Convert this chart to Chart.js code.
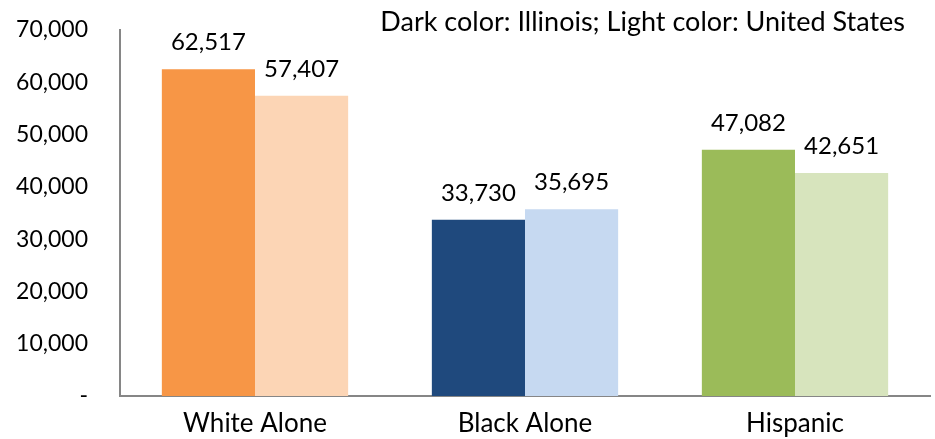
<!DOCTYPE html>
<html>
<head>
<meta charset="utf-8">
<script src="https://cdn.jsdelivr.net/npm/chart.js@4"></script>
<style>
  html, body { margin: 0; padding: 0; background: #fff; }
  #wrap { width: 935px; height: 439px; }
</style>
</head>
<body>
<div id="wrap"><canvas id="chart" width="935" height="439"></canvas></div>
<script>
// data
const categories = ["White Alone", "Black Alone", "Hispanic"];
const illinois = [62517, 33730, 47082];
const unitedStates = [57407, 35695, 42651];
const darkColors = ["#F79646", "#1F497D", "#9BBB59"];
const lightColors = ["#FCD5B5", "#C6D9F1", "#D7E4BD"];
const note = "Dark color: Illinois; Light color: United States";

const FONT = "Lato, 'Open Sans', sans-serif";

// value labels above bars + the note at top right
const labelPlugin = {
  id: "labels",
  afterDatasetsDraw(chart) {
    const ctx = chart.ctx;
    ctx.save();
    ctx.fillStyle = "#000";
    ctx.font = "24px " + FONT;
    ctx.textAlign = "center";
    ctx.textBaseline = "alphabetic";
    chart.data.datasets.forEach((ds, i) => {
      chart.getDatasetMeta(i).data.forEach((bar, j) => {
        ctx.fillText(ds.data[j].toLocaleString("en-US"), bar.x, bar.y - 19);
      });
    });
    ctx.font = "27px " + FONT;
    ctx.textAlign = "right";
    ctx.textBaseline = "middle";
    ctx.fillText(note, 905, 22);
    ctx.restore();
  }
};

new Chart(document.getElementById("chart"), {
  type: "bar",
  data: {
    labels: categories,
    datasets: [
      { label: "Illinois", data: illinois, backgroundColor: darkColors },
      { label: "United States", data: unitedStates, backgroundColor: lightColors }
    ]
  },
  options: {
    responsive: false,
    animation: false,
    devicePixelRatio: 1,
    layout: { padding: { top: 30, right: 5, left: 0, bottom: 0 } },
    datasets: { bar: { categoryPercentage: 0.69, barPercentage: 1.0 } },
    plugins: {
      legend: { display: false },
      tooltip: { enabled: false }
    },
    scales: {
      x: {
        afterFit(scale) { scale.height = 43; },
        grid: { display: false, drawTicks: false },
        border: { color: "#868686", width: 2 },
        ticks: { color: "#000", font: { family: FONT, size: 26 }, padding: 12 }
      },
      y: {
        min: 0,
        max: 70000,
        afterFit(scale) {
          scale.width = 120;
          // tick padding gets added to top/bottom too, take it back out
          scale.paddingTop = 0;
          scale.paddingBottom = 0;
        },
        grid: { display: false, drawTicks: false },
        border: { color: "#868686", width: 2 },
        ticks: {
          stepSize: 10000,
          color: "#000",
          padding: 32,
          font: { family: FONT, size: 23 },
          callback: v => v === 0 ? "-" : v.toLocaleString("en-US")
        }
      }
    }
  },
  plugins: [labelPlugin]
});
</script>
</body>
</html>
